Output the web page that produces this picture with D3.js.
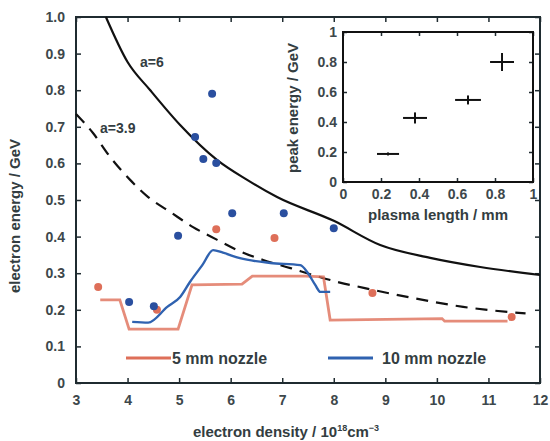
<!DOCTYPE html>
<html>
<head>
<meta charset="utf-8">
<script src="https://cdn.jsdelivr.net/npm/d3@7"></script>
<style>
  body { margin: 0; background: #fff; }
  svg { display: block; font-family: "Liberation Sans", Arial, sans-serif; font-weight: bold; }
  .tick text { fill: #3d474b; }
</style>
</head>
<body>
<svg id="chart" width="550" height="441"></svg>
<script>
// main plot tick labels
const xTicks = [3, 4, 5, 6, 7, 8, 9, 10, 11, 12];
const yTicks = [0, 0.1, 0.2, 0.3, 0.4, 0.5, 0.6, 0.7, 0.8, 0.9, 1.0];
const yTickLabels = ["0", "0.1", "0.2", "0.3", "0.4", "0.5", "0.6", "0.7", "0.8", "0.9", "1.0"];

// scaling curves [density, energy]
const curveA6 = [[3.58, 1.0], [4.0, 0.877], [4.44, 0.80], [5.02, 0.705], [5.74, 0.609],
  [6.32, 0.555], [6.9, 0.508], [8.0, 0.443], [8.9, 0.377], [9.87, 0.342], [10.84, 0.317], [12, 0.295]];
const curveA39 = [[3.0, 0.735], [3.33, 0.683], [3.66, 0.618], [4.05, 0.555], [4.40, 0.508],
  [4.83, 0.467], [5.27, 0.426], [5.74, 0.391], [6.13, 0.363], [6.63, 0.336], [7.16, 0.314],
  [7.6, 0.295], [8.1, 0.275], [8.58, 0.26], [9.54, 0.232], [10.51, 0.208], [11.72, 0.19]];

// measured spectra lines
const line5mm = [[3.47, 0.227], [3.85, 0.227], [4.03, 0.147], [4.98, 0.147], [5.25, 0.268],
  [6.22, 0.27], [6.42, 0.292], [7.45, 0.292], [7.8, 0.29], [7.93, 0.172], [10.1, 0.176],
  [10.15, 0.169], [11.37, 0.169]];
const line10mm = [[4.09, 0.167], [4.4, 0.165], [4.77, 0.208], [5.02, 0.235], [5.21, 0.276],
  [5.45, 0.322], [5.66, 0.363], [5.85, 0.356], [6.18, 0.341], [6.77, 0.328], [7.35, 0.322],
  [7.5, 0.3], [7.64, 0.268], [7.74, 0.249], [7.93, 0.249]];

// peak energies (dots)
const dots10mm = [[4.03, 0.221], [4.51, 0.21], [4.98, 0.402], [5.31, 0.672], [5.47, 0.612],
  [5.64, 0.79], [5.72, 0.601], [6.03, 0.464], [7.03, 0.464], [8.0, 0.423]];
const dots5mm = [[3.43, 0.262], [4.57, 0.2], [5.72, 0.42], [6.85, 0.396], [8.75, 0.246], [11.45, 0.18]];

// inset: plasma length vs peak energy [x, y, xerr, yerr]
const insetPoints = [[0.237, 0.187, 0.058, 0.01], [0.379, 0.427, 0.063, 0.037],
  [0.658, 0.547, 0.068, 0.03], [0.837, 0.80, 0.063, 0.06]];
const insetTicks = [0, 0.2, 0.4, 0.6, 0.8, 1];
const insetTickLabels = ["0", "0.2", "0.4", "0.6", "0.8", "1"];

const RED = "#de6f59";
const BLUE = "#2f62b0";
const FRAME = "#1f2b30";
const TEXT = "#333d41";

const svg = d3.select("#chart");
const x = d3.scaleLinear().domain([3, 12]).range([76, 540]);
const y = d3.scaleLinear().domain([0, 1]).range([383, 17]);

// axes with inward ticks on all four sides
function styleAxis(g) {
  g.select(".domain").remove();
  g.selectAll(".tick line").attr("stroke", FRAME).attr("stroke-width", 1.5);
}
svg.append("g").attr("transform", "translate(0,383)")
  .call(d3.axisBottom(x).tickValues(xTicks).tickSize(-5).tickPadding(12).tickFormat(d3.format("d")))
  .call(styleAxis).selectAll("text").attr("font-size", 14);
svg.append("g").attr("transform", "translate(0,17)")
  .call(d3.axisTop(x).tickValues(xTicks).tickSize(-5).tickFormat(""))
  .call(styleAxis);
svg.append("g").attr("transform", "translate(76,0)")
  .call(d3.axisLeft(y).tickValues(yTicks).tickSize(-5).tickPadding(11).tickFormat((d, i) => yTickLabels[i]))
  .call(styleAxis).selectAll("text").attr("font-size", 14);
svg.append("g").attr("transform", "translate(540,0)")
  .call(d3.axisRight(y).tickValues(yTicks).tickSize(-5).tickFormat(""))
  .call(styleAxis);

svg.append("rect").attr("x", 76).attr("y", 17).attr("width", 464).attr("height", 366)
  .attr("fill", "none").attr("stroke", FRAME).attr("stroke-width", 2);

const line = d3.line().x(d => x(d[0])).y(d => y(d[1]));
const smooth = d3.line().x(d => x(d[0])).y(d => y(d[1])).curve(d3.curveMonotoneX);

svg.append("path").attr("d", smooth(curveA6)).attr("fill", "none")
  .attr("stroke", "#111").attr("stroke-width", 2.2);
svg.append("path").attr("d", smooth(curveA39)).attr("fill", "none")
  .attr("stroke", "#111").attr("stroke-width", 2.2).attr("stroke-dasharray", "12,8");

svg.append("path").attr("d", line(line5mm)).attr("fill", "none")
  .attr("stroke", RED).attr("stroke-width", 2.8).attr("stroke-opacity", 0.8);
svg.append("path").attr("d", smooth(line10mm)).attr("fill", "none")
  .attr("stroke", BLUE).attr("stroke-width", 2.4);

svg.append("g").selectAll("circle").data(dots5mm).join("circle")
  .attr("cx", d => x(d[0])).attr("cy", d => y(d[1])).attr("r", 4).attr("fill", RED);
svg.append("g").selectAll("circle").data(dots10mm).join("circle")
  .attr("cx", d => x(d[0])).attr("cy", d => y(d[1])).attr("r", 4).attr("fill", "#2a4f9f");

// curve labels
svg.append("text").attr("x", 140).attr("y", 67).attr("font-size", 14).attr("fill", TEXT).text("a=6");
svg.append("text").attr("x", 100).attr("y", 133).attr("font-size", 14).attr("fill", TEXT).text("a=3.9");

// legend
const legend = [["5 mm nozzle", RED, 126, 172], ["10 mm nozzle", BLUE, 328, 382]];
legend.forEach(([label, color, x0, tx]) => {
  svg.append("line").attr("x1", x0).attr("x2", x0 + 45).attr("y1", 358).attr("y2", 358)
    .attr("stroke", color).attr("stroke-width", 3.2);
  svg.append("text").attr("x", tx).attr("y", 364).attr("font-size", 16).attr("fill", TEXT).text(label);
});

// axis titles
svg.append("text").attr("x", 286).attr("y", 437).attr("text-anchor", "middle")
  .attr("font-size", 15).attr("fill", TEXT)
  .call(t => {
    t.append("tspan").text("electron density / 10");
    t.append("tspan").attr("font-size", 9).attr("dy", -6).text("18");
    t.append("tspan").attr("dy", 6).text("cm");
    t.append("tspan").attr("font-size", 9).attr("dy", -6).text("\u22123");
  });
svg.append("text").attr("transform", "translate(20,216) rotate(-90)").attr("text-anchor", "middle")
  .attr("font-size", 15).attr("fill", TEXT).text("electron energy / GeV");

// inset
const ix = d3.scaleLinear().domain([0, 1]).range([343, 533]);
const iy = d3.scaleLinear().domain([0, 1]).range([182, 32]);
const inset = svg.append("g");
inset.append("rect").attr("x", 343).attr("y", 32).attr("width", 190).attr("height", 150).attr("fill", "#fff");
inset.append("g").attr("transform", "translate(0,182)")
  .call(d3.axisBottom(ix).tickValues(insetTicks).tickSize(-4).tickPadding(7).tickFormat((d, i) => insetTickLabels[i]))
  .call(styleAxis).selectAll("text").attr("font-size", 14);
inset.append("g").attr("transform", "translate(0,32)")
  .call(d3.axisTop(ix).tickValues(insetTicks).tickSize(-4).tickFormat(""))
  .call(styleAxis);
inset.append("g").attr("transform", "translate(343,0)")
  .call(d3.axisLeft(iy).tickValues(insetTicks).tickSize(-4).tickPadding(6).tickFormat((d, i) => insetTickLabels[i]))
  .call(styleAxis).selectAll("text").attr("font-size", 14);
inset.append("g").attr("transform", "translate(533,0)")
  .call(d3.axisRight(iy).tickValues(insetTicks).tickSize(-4).tickFormat(""))
  .call(styleAxis);
inset.append("rect").attr("x", 343).attr("y", 32).attr("width", 190).attr("height", 150)
  .attr("fill", "none").attr("stroke", "#111").attr("stroke-width", 2);

const eb = inset.append("g").attr("stroke", "#111").attr("stroke-width", 2);
insetPoints.forEach(([px, py, ex, ey]) => {
  eb.append("line").attr("x1", ix(px - ex)).attr("x2", ix(px + ex)).attr("y1", iy(py)).attr("y2", iy(py));
  eb.append("line").attr("x1", ix(px)).attr("x2", ix(px)).attr("y1", iy(py - ey)).attr("y2", iy(py + ey));
});

inset.append("text").attr("x", 438).attr("y", 220).attr("text-anchor", "middle")
  .attr("font-size", 15).attr("fill", TEXT).text("plasma length / mm");
inset.append("text").attr("transform", "translate(298,108) rotate(-90)").attr("text-anchor", "middle")
  .attr("font-size", 15).attr("fill", TEXT).text("peak energy / GeV");
</script>
</body>
</html>
